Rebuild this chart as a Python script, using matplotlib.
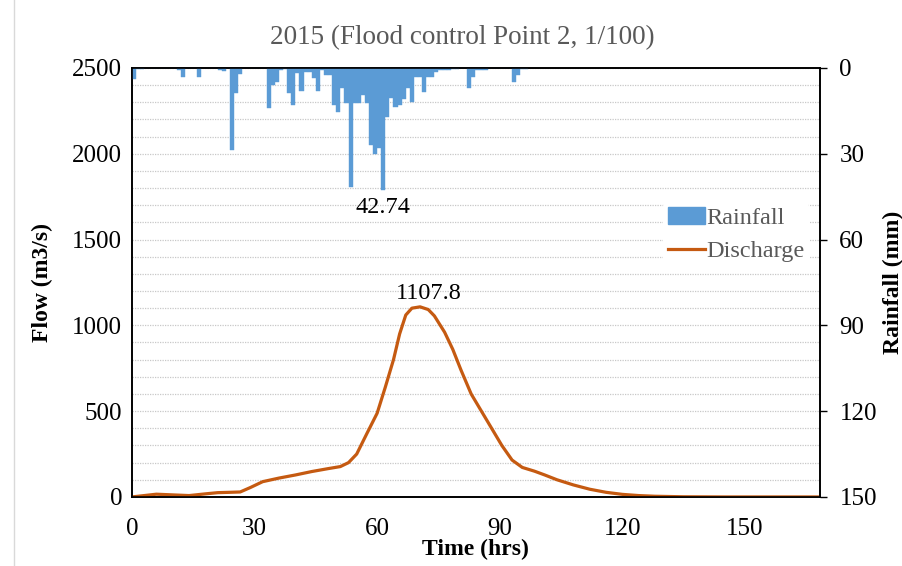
import numpy as np
import matplotlib
matplotlib.use("Agg")
import matplotlib.pyplot as plt
from matplotlib.patches import Patch
from matplotlib.lines import Line2D

plt.rcParams['font.family'] = ['Liberation Serif', 'DejaVu Serif']

# hourly rainfall (mm), hour 0 .. 96
rain = [3.8, 0.3, 0.5, 0, 0, 0, 0, 0, 0, 0,
        0, 0.8, 3.0, 0, 0, 0, 3.0, 0, 0, 0,
        0, 0.8, 1.0, 0, 28.7, 8.7, 2.3, 0, 0, 0,
        0, 0, 0, 14.0, 5.9, 4.8, 0.7, 0.3, 8.9, 12.9,
        1.8, 8.0, 1.3, 1.3, 3.6, 8.0, 0.7, 2.4, 2.4, 12.9,
        15.3, 7.1, 12.4, 41.5, 12.4, 12.4, 9.4, 12.4, 26.9, 30.2,
        27.9, 42.74, 17.0, 10.5, 13.5, 13.0, 11.0, 7.0, 11.8, 3.0,
        3.0, 8.5, 3.0, 3.0, 1.3, 0.7, 0.7, 0.7, 0.5, 0.5,
        0, 0.2, 7.1, 3.0, 0.7, 0.7, 0.7, 0, 0, 0,
        0, 0, 0, 4.8, 2.4, 0.5, 0.5]
rain_hours = np.arange(len(rain))

# discharge hydrograph (m3/s)
q_time = [0, 3, 6, 10, 14, 18, 21, 24, 26.5, 29, 32, 36, 40, 44, 48, 51,
          53, 55, 57.5, 60, 62, 64, 65.5, 67, 68.5, 70.5, 72.5, 74, 76.5, 78.5,
          80.5, 83, 85.5, 88, 90.5, 93, 95.5, 98.5, 101, 104, 108, 112, 116,
          120, 124, 128, 135, 145, 155, 168]
q_flow = [0, 8, 16, 12, 8, 18, 25, 27, 29, 55, 89, 110, 128, 148, 165, 177,
          200, 250, 370, 488, 640, 800, 950, 1060, 1100, 1107.8, 1092, 1055, 960, 860,
          740, 600, 500, 400, 300, 215, 172, 150, 128, 100, 70, 45, 27,
          15, 8, 4, 1, 0, 0, 0]

peak_rain = max(rain)
peak_flow = max(q_flow)

blue = '#5B9BD5'
orange = '#C55A11'

fig = plt.figure(figsize=(9.03, 5.66), dpi=100)
ax = fig.add_axes([0.146, 0.122, 0.762, 0.758])
ax2 = ax.twinx()

ax.plot(q_time, q_flow, color=orange, lw=2.3, solid_capstyle='round',
        solid_joinstyle='round', zorder=3)
ax.set_xlim(0, 168.3)
ax.set_ylim(0, 2500)
ax.set_xticks([0, 30, 60, 90, 120, 150])
ax.set_yticks([0, 500, 1000, 1500, 2000, 2500])
ax.set_yticks(np.arange(0, 2501, 100), minor=True)
ax.grid(which='both', axis='y', color='#c8c8c8', linestyle=(0, (1, 1)), lw=0.9)
ax.tick_params(axis='y', which='both', length=0, labelsize=18, pad=7)
ax.tick_params(axis='x', length=0, labelsize=18, pad=15)
ax.set_xlabel('Time (hrs)', fontsize=17, fontweight='bold', labelpad=-1)
ax.set_ylabel('Flow (m3/s)', fontsize=17, fontweight='bold', labelpad=14)

ax2.bar(rain_hours, rain, width=1.0, align='edge', color=blue, edgecolor=blue,
        lw=0.3, zorder=2)
ax2.set_ylim(150, 0)
ax2.set_yticks([0, 30, 60, 90, 120, 150])
ax2.tick_params(axis='y', length=5, width=1, labelsize=18, pad=9)
ax2.set_ylabel('Rainfall (mm)', fontsize=17, fontweight='bold', labelpad=4)

for a in (ax, ax2):
    for s in a.spines.values():
        s.set_color('black')
        s.set_linewidth(1.2)

ax2.annotate(f'{peak_rain:.2f}', xy=(61.5, peak_rain), xytext=(0, -5),
             textcoords='offset points', ha='center', va='top', fontsize=17.5)
ax.annotate(f'{peak_flow:.1f}', xy=(70.5, peak_flow), xytext=(6, 2),
            textcoords='offset points', ha='center', va='bottom', fontsize=17.5)

handles = [Patch(facecolor=blue, edgecolor=blue),
           Line2D([0], [0], color=orange, lw=2.3)]
leg = ax2.legend(handles, ['Rainfall', 'Discharge'], loc='upper left',
                 bbox_to_anchor=(0.755, 0.715), frameon=True, fontsize=17.5,
                 handlelength=1.5, handletextpad=0.05, borderpad=0.2,
                 labelspacing=0.45)
leg.get_frame().set_edgecolor('none')
leg.get_frame().set_facecolor('white')
leg.get_frame().set_alpha(1)
for t in leg.get_texts():
    t.set_color('#595959')

fig.text(0.512, 0.933, '2015 (Flood control Point 2, 1/100)', ha='center',
         va='center', fontsize=19.5, color='#595959')

# chart border on the left
fig.add_artist(Line2D([0.016, 0.016], [0, 1], transform=fig.transFigure,
                      color='#d9d9d9', lw=1))

fig.savefig('out.png', dpi=100)
